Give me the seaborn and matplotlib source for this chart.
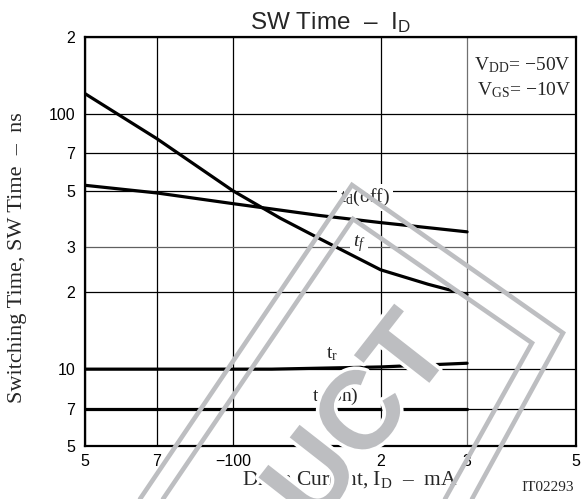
import matplotlib
matplotlib.use("Agg")
import matplotlib.pyplot as plt
import matplotlib.patheffects as pe
from matplotlib.lines import Line2D
import seaborn as sns
import pandas as pd

# ---------------- data ----------------
x_ticks = [5, 7, 10, 20, 30, 50]
x_tick_labels = ["5", "7", "\u2212100", "2", "3", "5"]
y_ticks = [5, 7, 10, 20, 30, 50, 70, 100, 200]
y_tick_labels = ["5", "7", "10", "2", "3", "5", "7", "100", "2"]

tf_x = [5, 7, 10, 12.5, 15, 20, 25, 30]
tf_y = [120, 80, 50, 39, 32.5, 24.5, 21.5, 19.6]

tdoff_x = [5, 7, 10, 15, 20, 30]
tdoff_y = [52.5, 49, 44.5, 40, 37.5, 34.5]

tr_x = [5, 10, 12, 20, 30]
tr_y = [10, 10, 10, 10.2, 10.55]

tdon_x = [5, 30]
tdon_y = [7, 7]

series_labels = [r"$\mathrm{t_d}$(off)", r"$t_f$", r"$\mathrm{t_r}$", r"$\mathrm{t_d}$(on)"]
label_pos = [(18.6, 47.0), (18.1, 31.0), (15.9, 11.5), (16.2, 7.85)]

title = "SW Time  \u2013  " + r"$\mathsf{I_D}$"
xlabel = "Drain Current, " + r"$\mathrm{I_D}$" + "  \u2013  mA"
ylabel = "Switching Time, SW Time  \u2013  ns"
cond1 = r"$\mathrm{V_{DD}}$" + "= \u221250V"
cond2 = r"$\mathrm{V_{GS}}$" + "= \u221210V"
code = "IT02293"
watermark = "PRODUCT"

# ---------------- style ----------------
sns.set_theme(style="white")
plt.rcParams["font.family"] = ["Liberation Sans", "DejaVu Sans"]
plt.rcParams["mathtext.fontset"] = "custom"
plt.rcParams["mathtext.rm"] = "Liberation Serif"
plt.rcParams["mathtext.it"] = "Liberation Serif:italic"
plt.rcParams["mathtext.sf"] = "Liberation Sans"

W, H = 588, 499
fig = plt.figure(figsize=(W / 100, H / 100), dpi=100)
ax = fig.add_axes([85 / W, 1 - 446 / H, (576 - 85) / W, (446 - 37) / H])
ax.set_axisbelow(True)

frames = [
    pd.DataFrame({"x": tf_x, "y": tf_y}),
    pd.DataFrame({"x": tdoff_x, "y": tdoff_y}),
    pd.DataFrame({"x": tr_x, "y": tr_y}),
    pd.DataFrame({"x": tdon_x, "y": tdon_y}),
]
for df in frames:
    sns.lineplot(data=df, x="x", y="y", ax=ax, color="black", lw=2.3,
                 estimator=None, sort=False, zorder=3)

ax.set_xscale("log")
ax.set_yscale("log")
ax.set_xlim(5, 50)
ax.set_ylim(5, 200)
ax.set_xticks(x_ticks)
ax.set_xticklabels(x_tick_labels)
ax.set_yticks(y_ticks)
ax.set_yticklabels(y_tick_labels)
ax.minorticks_off()
ax.tick_params(axis="both", length=0, labelsize=11.5, colors="black")
ax.tick_params(axis="x", pad=6)
ax.tick_params(axis="y", pad=7)
ax.grid(True, which="major", color="black", lw=0.9)
for i, gl in enumerate(ax.get_xgridlines()):
    if x_ticks[i] == 30:
        gl.set_color("#707070")
for i, gl in enumerate(ax.get_ygridlines()):
    if y_ticks[i] == 30:
        gl.set_color("#606060")
for s in ax.spines.values():
    s.set_color("black")
    s.set_linewidth(1.6)
ax.set_xlabel("")
ax.set_ylabel("")

serif = ["Liberation Serif", "DejaVu Serif"]
for lab, (lx, ly) in zip(series_labels, label_pos):
    ax.text(lx, ly, lab, family=serif, fontsize=14, ha="center", va="center",
            zorder=2, bbox=dict(fc="white", ec="none", pad=2.0))

ax.text(0.99, 0.955, cond1, transform=ax.transAxes, family=serif, fontsize=14,
        ha="right", va="top", bbox=dict(fc="white", ec="none", pad=1.0), zorder=4)
ax.text(0.99, 0.893, cond2, transform=ax.transAxes, family=serif, fontsize=14,
        ha="right", va="top", bbox=dict(fc="white", ec="none", pad=1.0), zorder=4)

fig.text(330 / W, 1 - 29 / H, title, fontsize=17.5, ha="center", va="baseline",
         family=["Liberation Sans", "DejaVu Sans"])
fig.text(350 / W, 1 - 485 / H, xlabel, fontsize=15.5, ha="center", va="baseline",
         family=serif)
fig.text(18 / W, 1 - 258 / H, ylabel, fontsize=16, ha="center", va="center",
         rotation=90, family=serif)
fig.text(574 / W, 1 - 491 / H, code, fontsize=11, ha="right", va="baseline",
         family=serif)

# ---------------- watermark (decoration) ----------------
wm_color = "#BDBEC1"
outer = [(140, 499), (352, 185), (563, 333), (472, 499)]
inner = [(163, 499), (353, 219), (532, 343), (445, 499)]
for poly in (outer, inner):
    fig.add_artist(Line2D([p[0] / W for p in poly], [1 - p[1] / H for p in poly],
                          transform=fig.transFigure, color=wm_color, lw=3.3,
                          solid_joinstyle="miter", zorder=10))
fig.text(455 / W, 1 - 350 / H, watermark, fontsize=80, fontweight="bold",
         color=wm_color, rotation=52, rotation_mode="anchor", ha="right",
         va="baseline", family=["Liberation Sans", "DejaVu Sans"], zorder=11,
         path_effects=[pe.withStroke(linewidth=5, foreground="white")])

fig.savefig("out.png", dpi=100, facecolor="white")
